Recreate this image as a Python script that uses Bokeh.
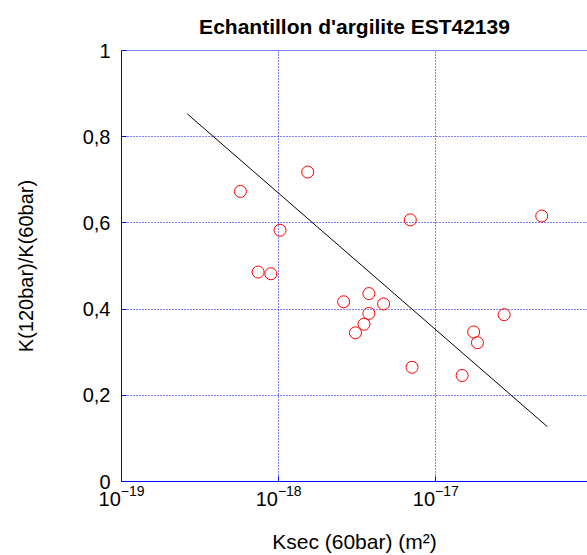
from bokeh.plotting import figure
from bokeh.models import FixedTicker, Span, LogTickFormatter
from bokeh.embed import file_html
from bokeh.resources import INLINE

# Data
ksec = [5.71e-19, 1.53e-18, 1.02e-18, 7.40e-19, 8.92e-19, 6.88e-18, 4.72e-17,
        2.59e-18, 3.75e-18, 4.65e-18, 3.75e-18, 3.49e-18, 3.08e-18, 7.06e-18,
        1.47e-17, 1.74e-17, 1.84e-17, 2.72e-17]
ratio = [0.673, 0.718, 0.583, 0.486, 0.482, 0.607, 0.616,
         0.417, 0.436, 0.412, 0.390, 0.365, 0.345, 0.265,
         0.246, 0.347, 0.322, 0.387]
fit_x = [2.62e-19, 5.13e-17]
fit_y = [0.853, 0.127]

x_ticks = [1e-19, 1e-18, 1e-17, 1e-16]
y_ticks = [0, 0.2, 0.4, 0.6, 0.8, 1]
y_labels = ["0", "0,2", "0,4", "0,6", "0,8", "1"]

FONT = "Liberation Sans"
BLUE = "#0000ff"

p = figure(width=587, height=555, x_axis_type="log",
           x_range=(1e-19, 10 ** -16.035), y_range=(0, 1),
           output_backend="svg", toolbar_location=None,
           title="Echantillon d'argilite EST42139",
           min_border_left=121, min_border_right=0, min_border_top=50,
           min_border_bottom=73)

p.title.text_font = FONT
p.title.text_font_size = "21px"
p.title.text_font_style = "bold"
p.title.align = "center"
p.title.text_color = "black"
p.title.standoff = 25

p.outline_line_color = None
p.background_fill_color = "white"
p.border_fill_color = "white"

# axes
p.xaxis.ticker = FixedTicker(ticks=x_ticks)
p.xaxis.formatter = LogTickFormatter()
p.yaxis.ticker = FixedTicker(ticks=y_ticks)
p.yaxis.major_label_overrides = {t: l for t, l in zip(y_ticks, y_labels)}

for ax in (p.xaxis[0], p.yaxis[0]):
    ax.axis_line_color = BLUE
    ax.axis_line_width = 1
    ax.major_tick_line_color = BLUE
    ax.major_tick_in = 5
    ax.major_tick_out = 0
    ax.minor_tick_in = 0
    ax.minor_tick_out = 0
    ax.major_label_text_font = FONT
    ax.major_label_text_font_size = "20px"
    ax.major_label_text_color = "black"
    ax.axis_label_text_font = FONT
    ax.axis_label_text_font_size = "20px"
    ax.axis_label_text_font_style = "normal"
    ax.axis_label_text_color = "black"

p.xaxis.axis_label_text_font_size = "21px"
p.xaxis.axis_label = "Ksec (60bar) (m²)"
p.yaxis.axis_label = "K(120bar)/K(60bar)"
p.xaxis.major_label_standoff = 3
p.xaxis.axis_label_standoff = 21
p.yaxis.major_label_standoff = 11
p.yaxis.axis_label_standoff = 43

# grid
for g in (p.xgrid[0], p.ygrid[0]):
    g.grid_line_color = BLUE
    g.grid_line_dash = "1 2"
    g.grid_line_width = 1
    g.grid_line_alpha = 1.0

# top border
p.add_layout(Span(location=1, dimension="width", line_color=BLUE, line_width=1))

# regression line
p.line(fit_x, fit_y, line_color="black", line_width=1)

# data points
p.scatter(ksec, ratio, marker="circle", size=12, fill_color=None,
          line_color="#ff0000", line_width=1)

open("out.html", "w").write(file_html(p, INLINE))
